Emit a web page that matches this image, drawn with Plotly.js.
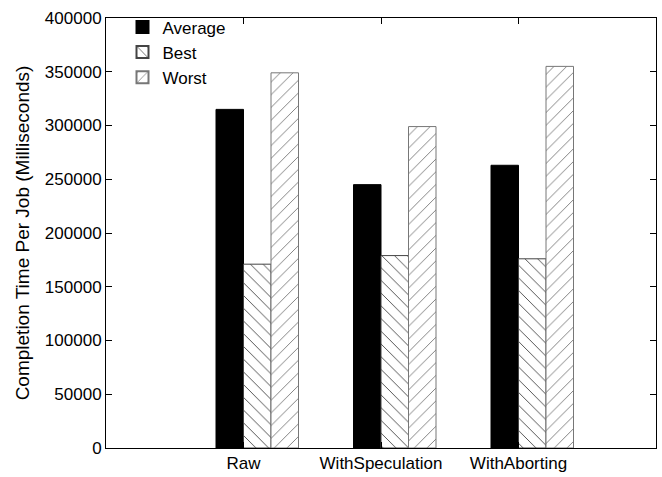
<!DOCTYPE html>
<html>
<head>
<meta charset="utf-8">
<script src="https://cdn.plot.ly/plotly-3.0.1.min.js"></script>
<style>html,body{margin:0;padding:0;background:#fff}#chart{width:662px;height:477px}</style>
</head>
<body>
<div id="chart"></div>
<script>
var categories = ["Raw", "WithSpeculation", "WithAborting"];
var averageValues = [315000, 245000, 263000];
var bestValues = [171000, 179000, 176000];
var worstValues = [349000, 299000, 355000];
var seriesNames = ["Average", "Best", "Worst"];

var font = "Liberation Sans, Arial, Helvetica, sans-serif";

var traces = [
  {
    type: "bar", name: seriesNames[0], x: categories, y: averageValues,
    width: 0.2, offset: -0.2,
    marker: {color: "#000000", line: {color: "#000000", width: 1}}
  },
  {
    type: "bar", name: seriesNames[1], x: categories, y: bestValues,
    width: 0.2, offset: 0,
    marker: {color: "#ffffff", line: {color: "#444444", width: 1},
      pattern: {shape: "\\", fgcolor: "#444444", bgcolor: "#ffffff", size: 9, solidity: 0.1}}
  },
  {
    type: "bar", name: seriesNames[2], x: categories, y: worstValues,
    width: 0.2, offset: 0.2,
    marker: {color: "#ffffff", line: {color: "#777777", width: 1},
      pattern: {shape: "/", fgcolor: "#777777", bgcolor: "#ffffff", size: 9, solidity: 0.1}}
  }
];

var layout = {
  width: 662, height: 477,
  margin: {l: 106, r: 6, t: 18, b: 29},
  paper_bgcolor: "#ffffff", plot_bgcolor: "#ffffff",
  font: {family: font, size: 17, color: "#000"},
  barmode: "overlay",
  showlegend: true,
  legend: {x: 0.03, y: 1.02, xanchor: "left", yanchor: "top", bgcolor: "rgba(0,0,0,0)",
    font: {family: font, size: 17}, tracegroupgap: 0, itemsizing: "constant"},
  xaxis: {
    type: "category", range: [-1, 3],
    showline: true, linecolor: "#000", linewidth: 1, mirror: "allticks",
    ticks: "inside", ticklen: 6, tickcolor: "#000",
    showgrid: false, zeroline: false,
    tickfont: {family: font, size: 17}
  },
  yaxis: {
    range: [0, 400000], dtick: 50000, tickformat: "d",
    showline: true, linecolor: "#000", linewidth: 1, mirror: "allticks",
    ticks: "inside", ticklen: 6, tickcolor: "#000",
    showgrid: false, zeroline: false,
    tickfont: {family: font, size: 17},
    title: {text: "Completion Time Per Job (Milliseconds)", font: {family: font, size: 19}, standoff: 10}
  }
};

Plotly.newPlot("chart", traces, layout, {displayModeBar: false, staticPlot: true});
</script>
</body>
</html>
